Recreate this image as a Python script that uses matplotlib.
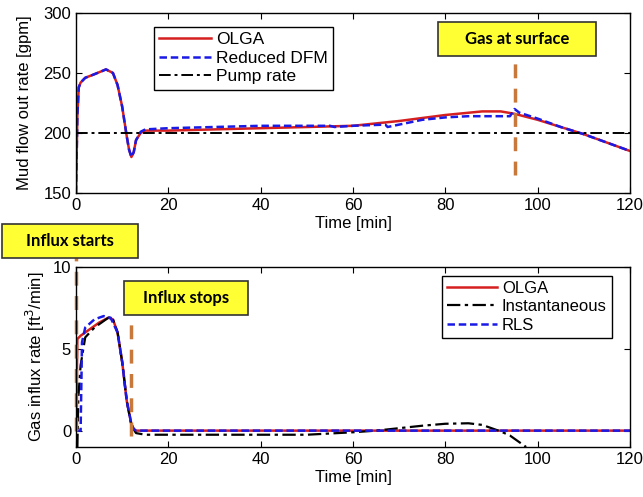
import numpy as np
import matplotlib
matplotlib.use('Agg')
import matplotlib.pyplot as plt
from matplotlib.patches import Rectangle

plt.rcParams['font.family'] = ['Liberation Sans', 'DejaVu Sans']
plt.rcParams['font.size'] = 12

# --- top panel: mud flow out rate ---
t_olga_top = [0, 0.3, 0.6, 1, 2, 4, 6.5, 8, 9, 10, 11, 11.5, 12, 12.5, 13, 14, 15, 20, 30, 40,
              50, 60, 70, 80, 88, 92, 95, 100, 105, 110, 115, 120]
olga_top = [150, 215, 238, 242, 246, 249, 253, 250, 240, 222, 197, 186, 180, 184, 194, 200, 202, 202, 203, 204,
            205, 206, 210, 215, 218, 218, 216, 211, 205, 199, 192, 185]
t_dfm = [0, 0.3, 0.6, 1, 2, 4, 6.5, 8, 9, 10, 11, 11.5, 12, 12.5, 13, 14, 15, 20, 30, 40,
         50, 55, 56, 60, 67, 67.5, 75, 80, 85, 94, 95, 96, 100, 105, 110, 115, 120]
dfm = [150, 215, 238, 242, 246, 249, 253, 250, 240, 222, 197, 186, 180, 184, 194, 201, 203, 204, 205, 206,
       206, 206, 205, 206, 207, 205, 211, 213, 214, 214, 220, 217, 212, 205, 199, 192, 185]
t_pump = [0, 120]
pump = [200, 200]

# --- bottom panel: gas influx rate ---
t_olga_bot = [0, 0.3, 1, 3, 5, 7, 8, 9, 10, 11, 12, 12.5, 13, 15, 120]
olga_bot = [0, 5.6, 5.8, 6.2, 6.6, 6.9, 6.8, 6.0, 4.2, 1.8, 0.4, 0.1, 0, 0, 0]
t_rls = [0, 1, 1.3, 2, 4, 6, 7.5, 9, 10, 11, 12, 12.5, 13, 15, 120]
rls = [0, 0, 5.4, 6.3, 6.8, 7.0, 6.9, 6.0, 4.2, 1.8, 0.4, 0.1, 0, 0, 0]
t_inst = [0.3, 0.5, 1, 2, 4, 7, 8, 9, 10, 11, 12, 13, 15, 30, 50, 60, 65, 70, 75, 80,
          85, 88, 90, 92, 94, 96, 97.5]
inst = [-1, 2, 4, 5.7, 6.3, 6.9, 6.8, 6.0, 4.2, 1.8, 0.3, -0.15, -0.25, -0.25, -0.25, -0.1, 0, 0.15, 0.3, 0.42,
        0.45, 0.35, 0.15, -0.05, -0.3, -0.7, -1]

RED = '#d62020'
BLUE = '#1a1ae6'
ORANGE = '#c8783a'
YELLOW = '#ffff33'

W, H = 643, 497
fig = plt.figure(figsize=(W / 100, H / 100), dpi=100)

def px_axes(x0, y0, x1, y1):
    return fig.add_axes([x0 / W, 1 - y1 / H, (x1 - x0) / W, (y1 - y0) / H])

def note(x0, y0, x1, y1, text):
    fig.patches.append(Rectangle((x0 / W, 1 - y1 / H), (x1 - x0) / W, (y1 - y0) / H,
                                 transform=fig.transFigure, facecolor=YELLOW,
                                 edgecolor='#333333', linewidth=1.2, zorder=10))
    fig.text((x0 + x1) / 2 / W, 1 - (y0 + y1) / 2 / H, text, ha='center', va='center',
             family=['Lato', 'DejaVu Sans'], fontweight='bold', fontsize=12, zorder=11)

def style(ax):
    ax.tick_params(direction='in', top=True, right=True, length=4, labelsize=12)
    for s in ax.spines.values():
        s.set_linewidth(1.0)

ax1 = px_axes(76, 13, 630, 193)
ax1.plot(t_olga_top, olga_top, color=RED, lw=1.8, label='OLGA')
ax1.plot(t_dfm, dfm, color=BLUE, lw=1.8, ls=(0, (3, 1.5)), label='Reduced DFM')
ax1.plot(t_pump, pump, color='black', lw=1.4, ls=(0, (6, 2, 1.5, 2)), label='Pump rate')
ax1.plot([95, 95], [165, 262], color=ORANGE, lw=2.5, ls=(0, (4, 3)))
ax1.set_xlim(0, 120)
ax1.set_ylim(150, 300)
ax1.set_xticks(range(0, 121, 20))
ax1.set_yticks([150, 200, 250, 300])
ax1.set_xlabel('Time [min]', labelpad=2)
ax1.set_ylabel('Mud flow out rate [gpm]', labelpad=8)
style(ax1)
leg1 = ax1.legend(loc='upper left', bbox_to_anchor=(0.125, 0.972), fancybox=False,
                  edgecolor='black', framealpha=1, fontsize=12.5, handlelength=3.0,
                  borderpad=0.3, labelspacing=0.2, handletextpad=0.3)
leg1.get_frame().set_linewidth(1.0)

ax2 = px_axes(76, 267, 630, 447)
ax2.plot(t_olga_bot, olga_bot, color=RED, lw=1.8, label='OLGA')
ax2.plot(t_inst, inst, color='black', lw=1.6, ls=(0, (6, 2, 1.5, 2)), label='Instantaneous')
ax2.plot(t_rls, rls, color=BLUE, lw=1.8, ls=(0, (3, 1.5)), label='RLS')
ax2.plot([0, 0], [0, 11.5], color=ORANGE, lw=2.5, ls=(0, (4, 3)), clip_on=False)
ax2.plot([12, 12], [-0.3, 7.1], color=ORANGE, lw=2.5, ls=(0, (4, 3)))
ax2.set_xlim(0, 120)
ax2.set_ylim(-1, 10)
ax2.set_xticks(range(0, 121, 20))
ax2.set_yticks([0, 5, 10])
ax2.set_xlabel('Time [min]', labelpad=2)
ax2.set_ylabel('Gas influx rate [ft$^3$/min]', labelpad=4)
style(ax2)
leg2 = ax2.legend(loc='upper right', bbox_to_anchor=(0.982, 0.997), fancybox=False,
                  edgecolor='black', framealpha=1, fontsize=12, handlelength=3.0,
                  borderpad=0.3, labelspacing=0.2, handletextpad=0.3)
leg2.get_frame().set_linewidth(1.0)

note(438, 22, 596, 56, 'Gas at surface')
note(2, 224, 138, 258, 'Influx starts')
note(124, 281, 248, 315, 'Influx stops')

fig.savefig('out.png', dpi=100)
